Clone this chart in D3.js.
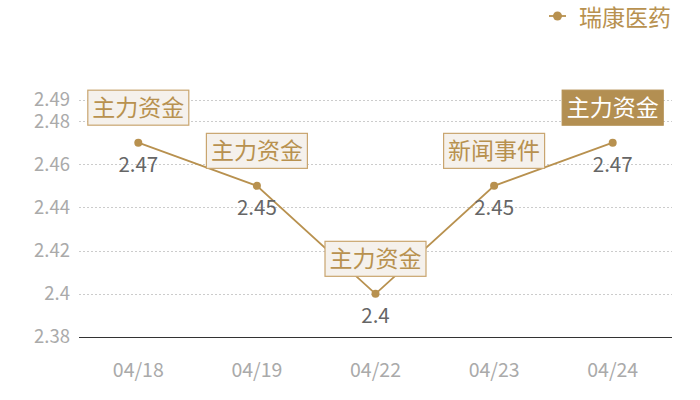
<!DOCTYPE html>
<html><head><meta charset="utf-8">
<script src="https://cdn.jsdelivr.net/npm/d3@7/dist/d3.min.js"></script>
<style>
html,body{margin:0;padding:0;background:#fff;}
svg{display:block;font-family:"Noto Sans CJK SC","Noto Sans",sans-serif;}
</style></head><body>
<svg id="c" width="700" height="400"></svg>
<script>
const categories = ["04/18","04/19","04/22","04/23","04/24"];
const values = [2.47, 2.45, 2.40, 2.45, 2.47];
const eventLabels = ["主力资金","主力资金","主力资金","新闻事件","主力资金"];
const highlighted = [false,false,false,false,true];
const yTicks = [2.38, 2.40, 2.42, 2.44, 2.46, 2.48, 2.49];
const seriesName = "瑞康医药";

const gold = "#b8914f";
const svg = d3.select("#c");
const x = d3.scaleBand().domain(categories).range([79, 672]);
const y = d3.scaleLinear().domain([2.38, 2.49]).range([337, 99.5]);
const cx = d => x(d) + x.bandwidth()/2;

// grid
svg.append("g").selectAll("line").data(yTicks.filter(t => t !== 2.38)).join("line")
  .attr("x1", 79).attr("x2", 672)
  .attr("y1", d => Math.round(y(d)) + 0.5).attr("y2", d => Math.round(y(d)) + 0.5)
  .attr("stroke", "#ccc").attr("stroke-dasharray", "2,2");

// y axis labels
const yAxis = d3.axisLeft(y).tickValues(yTicks).tickSize(0).tickPadding(9)
  .tickFormat(d => String(+d.toFixed(2)));
const ga = svg.append("g").attr("transform", "translate(79,0)").call(yAxis);
ga.select(".domain").remove();
ga.selectAll("text").attr("fill", "#aaa").style("font-size", "18.5px")
  .style("font-family", '"Noto Sans CJK SC","Noto Sans",sans-serif');

// x axis
const xAxis = d3.axisBottom(x).tickSize(0).tickPadding(26);
const gx = svg.append("g").attr("transform", "translate(0,337)").call(xAxis);
gx.select(".domain").attr("stroke", "#333").attr("d", "M79,0.5H672");
gx.selectAll("text").attr("fill", "#aaa").style("font-size", "19.5px")
  .style("font-family", '"Noto Sans CJK SC","Noto Sans",sans-serif');

// line
const line = d3.line().x((d,i) => cx(categories[i])).y(d => y(d));
svg.append("path").datum(values).attr("d", line)
  .attr("fill", "none").attr("stroke", gold).attr("stroke-width", 1.8);

svg.append("g").selectAll("circle").data(values).join("circle")
  .attr("cx", (d,i) => cx(categories[i])).attr("cy", d => y(d)).attr("r", 4)
  .attr("fill", gold);

// value labels
svg.append("g").selectAll("text").data(values).join("text")
  .attr("x", (d,i) => cx(categories[i])).attr("y", d => y(d) + 29)
  .attr("text-anchor", "middle").attr("fill", "#666").style("font-size", "20.5px")
  .text(d => String(d));

// event labels
const lg = svg.append("g").selectAll("g").data(values).join("g")
  .attr("transform", (d,i) => `translate(${cx(categories[i])},${y(d) - 17})`);
lg.append("rect")
  .attr("x", -50.5).attr("y", -35.5).attr("width", 101).attr("height", 35)
  .attr("fill", (d,i) => highlighted[i] ? "#b38f52" : "#f5f1ec")
  .attr("stroke", (d,i) => highlighted[i] ? "#b38f52" : "#c9a56f").attr("stroke-width", 1.2);
lg.append("text").attr("x", 0).attr("y", -10)
  .attr("text-anchor", "middle").style("font-size", "23px")
  .attr("fill", (d,i) => highlighted[i] ? "#fff" : gold)
  .text((d,i) => eventLabels[i]);

// legend
const leg = svg.append("g");
leg.append("line").attr("x1", 549).attr("x2", 566).attr("y1", 16).attr("y2", 16)
  .attr("stroke", gold).attr("stroke-width", 1.8);
leg.append("circle").attr("cx", 557.5).attr("cy", 16).attr("r", 4.5).attr("fill", gold);
leg.append("text").attr("x", 579).attr("y", 26).attr("fill", gold)
  .style("font-size", "23px").text(seriesName);
</script>
</body></html>
